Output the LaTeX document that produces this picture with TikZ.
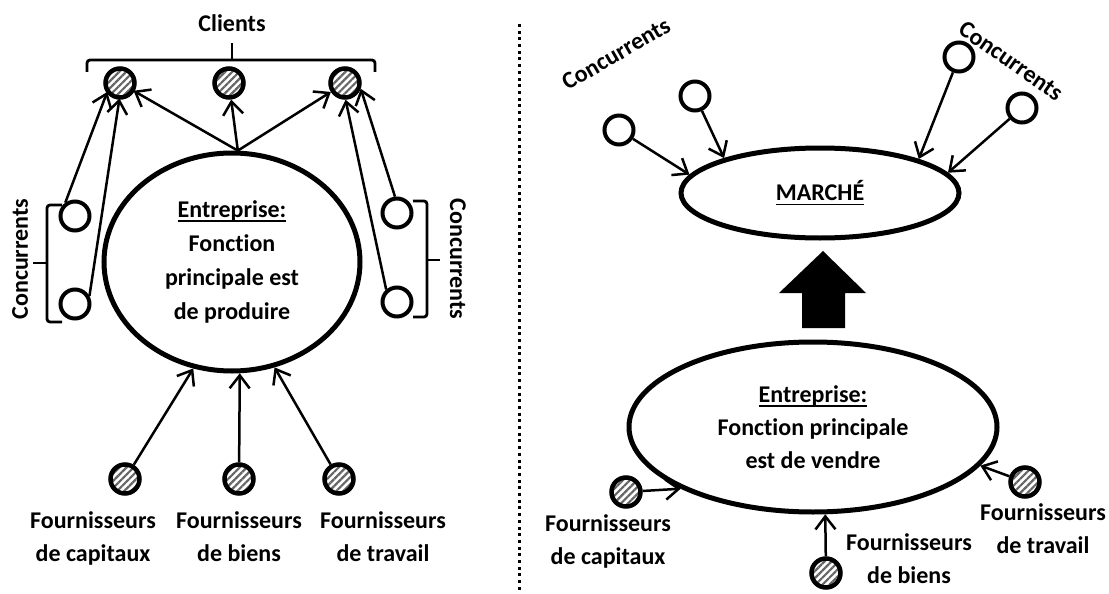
\documentclass[tikz,border=0pt]{standalone}
\usepackage{fontspec}
\setmainfont{Carlito}[RawFeature=-liga]
\usetikzlibrary{shapes.geometric,arrows.meta,patterns.meta}
\newsavebox\ulbox
\newcommand\ulx[1]{\sbox\ulbox{#1}\rlap{\rule[-4.5pt]{\wd\ulbox}{1.8pt}}\usebox\ulbox}
\begin{document}
\begin{tikzpicture}[x=1pt,y=-1pt,
  every node/.style={font=\fontsize{24}{33}\selectfont\bfseries, inner sep=0pt},
  hatchc/.style={circle, draw, line width=4.5pt, minimum size=29pt, inner sep=0pt,
    pattern={Lines[angle=45,distance=5pt,line width=2.2pt]}, pattern color=black!60},
  opencirc/.style={circle, draw, line width=4pt, minimum size=29pt, inner sep=0pt},
  arr/.style={line width=2.5pt, -{Straight Barb[length=13pt,width=20pt]}},
  lbl/.style={align=center, inner sep=0pt, anchor=north},
  bigell/.style={ellipse, draw, line width=5pt, inner sep=0pt, align=center},
  bracket/.style={line width=2.8pt, rounded corners=3pt}]
\path[use as bounding box] (0,0) rectangle (1109,594);

% ---------- left panel ----------
\node (clients) at (232,23) {Clients};
\draw[bracket] (87,72) -- (87,60) -- (375,60) -- (375,72);
\draw[bracket] (232,60) -- (232,43);

\node[hatchc] (c1) at (120,83) {};
\node[hatchc] (c2) at (229,83) {};
\node[hatchc] (c3) at (345,83) {};

\node[bigell, minimum width=256pt, minimum height=218pt,
  font=\fontsize{24}{34}\selectfont\bfseries] (E) at (232,262)
  {\ulx{Entreprise:}\\Fonction\\principale est\\de produire};

\node[opencirc] (lc1) at (75,216) {};
\node[opencirc] (lc2) at (75,304) {};
\node[opencirc] (rc1) at (397,213) {};
\node[opencirc] (rc2) at (397,302) {};

\draw[bracket] (62,205) -- (47,205) -- (47,322) -- (62,322);
\draw[bracket] (47,263) -- (33,263);
\draw[bracket] (413,201) -- (427,201) -- (427,317) -- (413,317);
\draw[bracket] (427,260) -- (440,260);
\node[rotate=90] (lconc) at (20,259) {Concurrents};
\node[rotate=-90] (rconc) at (458,259) {Concurrents};

\coordinate (T) at (E.87);
\draw[arr] (T) -- (c1);
\draw[arr] (T) -- (c2);
\draw[arr] (T) -- (c3);
\draw[arr] (lc1.126) -- (c1.215);
\draw[arr] (lc2.29) -- (c1.268);
\draw[arr] (rc1.97) -- (c3.340);
\draw[arr] (rc2.131) -- (c3.272);

\node[hatchc] (s1) at (125,479) {};
\node[hatchc] (s2) at (239,479) {};
\node[hatchc] (s3) at (339,479) {};
\draw[arr] (s1) -- (E.250);
\draw[arr] (s2) -- (E.274);
\draw[arr] (s3) -- (E.292);
\node[lbl] (f1) at (93,511) {Fournisseurs\\de capitaux};
\node[lbl] (f2) at (239,511) {Fournisseurs\\de biens};
\node[lbl] (f3) at (383,511) {Fournisseurs\\de travail};

% ---------- divider ----------
\draw[line width=3pt, dash pattern=on 3pt off 3.7pt] (519,24) -- (519,594);

% ---------- right panel ----------
\node[bigell, minimum width=278pt, minimum height=90pt] (M) at (820,193) {\ulx{MARCHÉ}};
\node[opencirc] (a1) at (619,130) {};
\node[opencirc] (a2) at (695,96) {};
\node[opencirc] (b1) at (959,57) {};
\node[opencirc] (b2) at (1022,108) {};
\node[rotate=30] (alab) at (616,54) {Concurrents};
\node[rotate=-35] (blab) at (1011,61) {Concurrents};
\draw[arr] (a1) -- (M.172);
\draw[arr] (a2) -- (M.160);
\draw[arr] (b1) -- (M.19);
\draw[arr] (b2) -- (M.9);

\fill (802,328) -- (845,328) -- (845,293) -- (866,293) -- (823,251) -- (779,293) -- (802,293) -- cycle;

\node[bigell, minimum width=368pt, minimum height=170pt] (E2) at (813,427)
  {\ulx{Entreprise:}\\Fonction principale\\est de vendre};

\node[hatchc] (p1) at (626,492) {};
\node[hatchc] (p2) at (826,573) {};
\node[hatchc] (p3) at (1025,482) {};
\draw[arr] (p1) -- (E2.205);
\draw[arr] (p2) -- (E2.278);
\draw[arr] (p3) -- (E2.347);
\node[lbl] (g1) at (608,514) {Fournisseurs\\de capitaux};
\node[lbl] (g2) at (909,533) {Fournisseurs\\de biens};
\node[lbl] (g3) at (1043,503) {Fournisseurs\\de travail};
\end{tikzpicture}
\end{document}
